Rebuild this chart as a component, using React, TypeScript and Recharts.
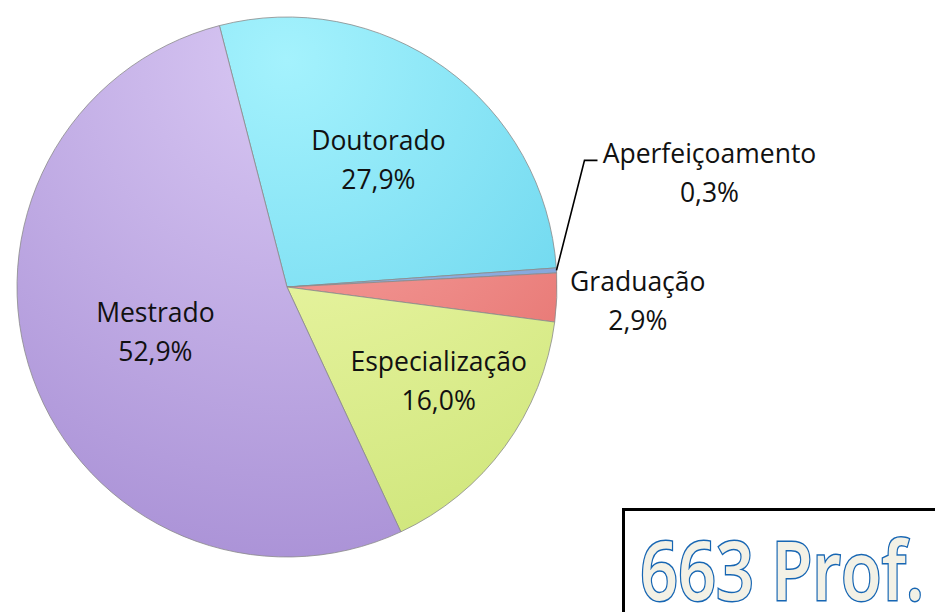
import { PieChart, Pie, Cell } from "recharts";

const categories = ["Doutorado", "Aperfeiçoamento", "Graduação", "Especialização", "Mestrado"];
const shares = [27.9, 0.3, 2.9, 16.0, 52.9];
const totalLabel = "663 Prof.";

const colors = [
  ["#a4f2fd", "#55cbe8"],
  ["#a9c4ec", "#6f95d0"],
  ["#fbb0ae", "#e0625e"],
  ["#f4fbb4", "#cce476"],
  ["#d8c7f3", "#a68dd4"],
];

const data = categories.map((name, i) => ({ name, value: shares[i] }));

const RAD = Math.PI / 180;
const fmt = (v: number) => `${v.toFixed(1).replace(".", ",")}%`;
const FONT = "'Open Sans', 'Noto Sans', sans-serif";

// radial factor + small nudge for labels placed inside the slices
const inside: Record<string, [number, number, number]> = {
  Doutorado: [0.58, 0, 0],
  Especialização: [0.66, 8, -11],
  Mestrado: [0.51, -2, -1],
};

function renderLabel(props: any) {
  const { cx, cy, midAngle, outerRadius, name, value } = props;
  const cos = Math.cos(-midAngle * RAD);
  const sin = Math.sin(-midAngle * RAD);
  let x: number;
  let y: number;
  let extra = null;
  if (inside[name] !== undefined) {
    const [f, nx, ny] = inside[name];
    const r = outerRadius * f;
    x = cx + r * cos + nx;
    y = cy + r * sin + ny;
  } else {
    const ex = cx + outerRadius * cos;
    const ey = cy + outerRadius * sin;
    if (name === "Aperfeiçoamento") {
      const elbowX = ex + 28;
      const elbowY = ey - 110;
      extra = (
        <polyline
          points={`${ex},${ey} ${elbowX},${elbowY} ${elbowX + 13},${elbowY}`}
          fill="none"
          stroke="#000"
          strokeWidth={1.6}
        />
      );
      x = elbowX + 125;
      y = elbowY + 13;
    } else {
      x = ex + 81;
      y = ey + 3;
    }
  }
  return (
    <g key={name}>
      {extra}
      <text x={x} y={y - 20} textAnchor="middle" dominantBaseline="central" fontSize={26.5} fontFamily={FONT} fill="#111">
        {name}
      </text>
      <text x={x} y={y + 19} textAnchor="middle" dominantBaseline="central" fontSize={26.5} fontFamily={FONT} fill="#111">
        {fmt(value)}
      </text>
    </g>
  );
}

export default function App() {
  return (
    <div style={{ position: "absolute", left: 0, top: 0, width: 935, height: 612, background: "#fff", overflow: "hidden" }}>
      <PieChart width={935} height={612}>
        <defs>
          {colors.map(([light, dark], i) => (
            <radialGradient key={i} id={`g${i}`} cx="287" cy="60" r="560" gradientUnits="userSpaceOnUse">
              <stop offset="0%" stopColor={light} />
              <stop offset="100%" stopColor={dark} />
            </radialGradient>
          ))}
        </defs>
        <Pie
          data={data}
          dataKey="value"
          nameKey="name"
          cx={282}
          cy={282}
          outerRadius={270}
          startAngle={104.5}
          endAngle={-255.5}
          stroke="#8a8a8a"
          strokeWidth={0.8}
          label={renderLabel}
          labelLine={false}
          isAnimationActive={false}
        >
          {data.map((d, i) => (
            <Cell key={d.name} fill={`url(#g${i})`} />
          ))}
        </Pie>
      </PieChart>
      <div
        style={{
          position: "absolute",
          left: 622,
          top: 508,
          width: 330,
          height: 120,
          border: "3px solid #000",
          boxSizing: "border-box",
          background: "#fff",
        }}
      />
      <svg width={935} height={612} style={{ position: "absolute", left: 0, top: 0, pointerEvents: "none" }}>
        <text
          x={640}
          y={600}
          fontSize={82}
          fontWeight={600}
          fontFamily={FONT}
          textLength={284}
          lengthAdjust="spacingAndGlyphs"
          fill="#f3f1e6"
          stroke="#1766b3"
          strokeWidth={3}
          paintOrder="stroke"
        >
          {totalLabel}
        </text>
      </svg>
    </div>
  );
}
